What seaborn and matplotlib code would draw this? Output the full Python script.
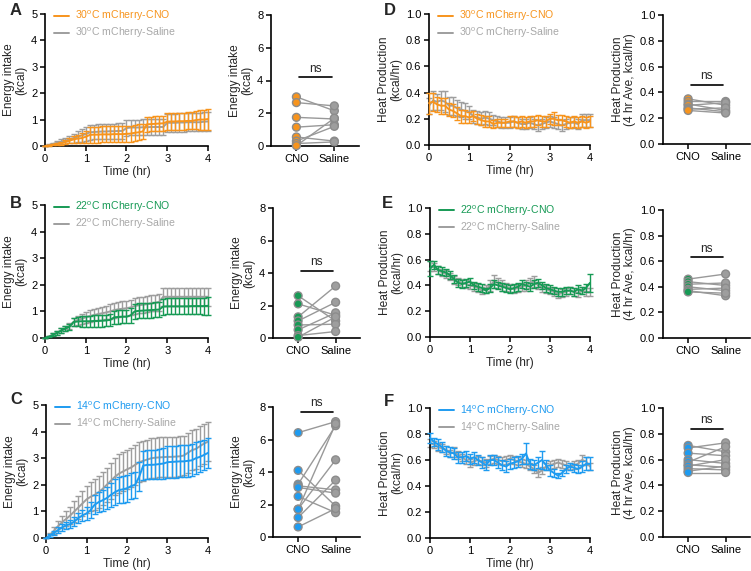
import numpy as np
import pandas as pd
import matplotlib
matplotlib.use("Agg")
import matplotlib.pyplot as plt
import seaborn as sns

sns.set_theme(style="ticks")
plt.rcParams['font.family'] = ['Liberation Sans', 'DejaVu Sans']
plt.rcParams['mathtext.fontset'] = 'custom'
plt.rcParams['mathtext.rm'] = 'Liberation Sans'

# ---------------- data ----------------
time_hr = [0.0, 0.1, 0.2, 0.3, 0.4, 0.5, 0.6, 0.7, 0.8, 0.9, 1.0,
           1.1, 1.2, 1.3, 1.4, 1.5, 1.6, 1.7, 1.8, 1.9,
           2.0, 2.1, 2.2, 2.3, 2.4, 2.5, 2.6, 2.7, 2.8, 2.9,
           3.0, 3.1, 3.2, 3.3, 3.4, 3.5, 3.6, 3.7, 3.8, 3.9, 4.0]

# Panel A: energy intake 30C
a_cno_mean = [0.00, 0.02, 0.05, 0.08, 0.10, 0.15, 0.20, 0.25, 0.28, 0.30, 0.35,
              0.42, 0.43, 0.43, 0.44, 0.44, 0.44, 0.45, 0.45, 0.45,
              0.46, 0.47, 0.50, 0.52, 0.55, 0.82, 0.83, 0.84, 0.85, 0.86,
              0.92, 0.93, 0.93, 0.94, 0.94, 0.95, 0.95, 0.98, 1.00, 1.00, 1.02]
a_cno_sem = [0.00, 0.01, 0.02, 0.04, 0.05, 0.08, 0.10, 0.13, 0.15, 0.18, 0.22,
             0.30, 0.30, 0.30, 0.30, 0.30, 0.30, 0.30, 0.30, 0.30,
             0.30, 0.30, 0.30, 0.30, 0.30, 0.28, 0.28, 0.28, 0.28, 0.28,
             0.32, 0.32, 0.32, 0.32, 0.32, 0.32, 0.32, 0.35, 0.38, 0.38, 0.40]
a_sal_mean = [0.00, 0.04, 0.08, 0.12, 0.16, 0.20, 0.25, 0.30, 0.35, 0.40, 0.45,
              0.52, 0.53, 0.54, 0.55, 0.55, 0.56, 0.56, 0.57, 0.57,
              0.68, 0.70, 0.70, 0.70, 0.71, 0.71, 0.72, 0.72, 0.72, 0.72,
              0.88, 0.88, 0.88, 0.89, 0.89, 0.90, 0.90, 0.90, 0.90, 0.92, 0.93]
a_sal_sem = [0.00, 0.03, 0.05, 0.07, 0.09, 0.12, 0.14, 0.17, 0.20, 0.24, 0.27,
             0.28, 0.28, 0.29, 0.29, 0.29, 0.29, 0.29, 0.30, 0.30,
             0.30, 0.30, 0.30, 0.30, 0.30, 0.30, 0.30, 0.30, 0.30, 0.30,
             0.35, 0.35, 0.35, 0.35, 0.35, 0.35, 0.35, 0.35, 0.35, 0.35, 0.35]

# Panel B: energy intake 22C
b_cno_mean = [0.00, 0.05, 0.12, 0.20, 0.28, 0.35, 0.42, 0.60, 0.62, 0.63, 0.63,
              0.63, 0.64, 0.64, 0.65, 0.66, 0.68, 0.78, 0.79, 0.80,
              0.80, 0.85, 1.00, 1.02, 1.03, 1.04, 1.05, 1.06, 1.07, 1.18,
              1.19, 1.19, 1.19, 1.19, 1.19, 1.19, 1.20, 1.20, 1.20, 1.20, 1.21]
b_cno_sem = [0.00, 0.03, 0.05, 0.07, 0.08, 0.10, 0.12, 0.15, 0.18, 0.20, 0.20,
             0.20, 0.22, 0.22, 0.22, 0.22, 0.24, 0.25, 0.25, 0.25,
             0.25, 0.27, 0.28, 0.28, 0.28, 0.28, 0.28, 0.28, 0.28, 0.30,
             0.30, 0.30, 0.30, 0.30, 0.30, 0.30, 0.30, 0.30, 0.30, 0.32, 0.33]
b_sal_mean = [0.00, 0.06, 0.13, 0.20, 0.28, 0.36, 0.45, 0.60, 0.67, 0.72, 0.78,
              0.82, 0.86, 0.90, 0.93, 0.96, 1.00, 1.05, 1.08, 1.10,
              1.12, 1.15, 1.20, 1.23, 1.25, 1.27, 1.30, 1.32, 1.35, 1.55,
              1.55, 1.55, 1.55, 1.55, 1.55, 1.55, 1.55, 1.55, 1.55, 1.55, 1.55]
b_sal_sem = [0.00, 0.03, 0.05, 0.07, 0.09, 0.10, 0.12, 0.15, 0.17, 0.18, 0.20,
             0.22, 0.23, 0.24, 0.25, 0.26, 0.27, 0.28, 0.28, 0.28,
             0.28, 0.28, 0.29, 0.30, 0.30, 0.30, 0.30, 0.30, 0.32, 0.33,
             0.33, 0.33, 0.33, 0.33, 0.33, 0.33, 0.33, 0.33, 0.33, 0.33, 0.33]

# Panel C: energy intake 14C
c_cno_mean = [0.00, 0.10, 0.20, 0.30, 0.40, 0.48, 0.52, 0.62, 0.75, 0.85, 0.92,
              1.05, 1.25, 1.35, 1.42, 1.50, 1.62, 1.72, 1.80, 1.83,
              1.87, 1.95, 2.00, 2.30, 2.72, 2.75, 2.75, 2.76, 2.78, 2.80,
              2.85, 2.86, 2.87, 2.88, 2.88, 2.90, 2.92, 3.00, 3.05, 3.12, 3.20]
c_cno_sem = [0.00, 0.05, 0.08, 0.10, 0.12, 0.13, 0.15, 0.17, 0.20, 0.22, 0.25,
             0.30, 0.35, 0.38, 0.40, 0.42, 0.45, 0.48, 0.50, 0.50,
             0.50, 0.50, 0.50, 0.55, 0.55, 0.55, 0.55, 0.56, 0.57, 0.58,
             0.60, 0.60, 0.60, 0.60, 0.60, 0.60, 0.60, 0.60, 0.58, 0.56, 0.55]
c_sal_mean = [0.00, 0.12, 0.28, 0.45, 0.60, 0.72, 0.85, 1.00, 1.15, 1.30, 1.45,
              1.55, 1.62, 1.72, 1.85, 2.00, 2.15, 2.30, 2.42, 2.50,
              2.58, 2.65, 2.75, 2.85, 2.90, 2.95, 3.00, 3.02, 3.03, 3.04,
              3.05, 3.05, 3.06, 3.07, 3.10, 3.20, 3.30, 3.35, 3.45, 3.55, 3.62]
c_sal_sem = [0.00, 0.08, 0.12, 0.18, 0.22, 0.28, 0.32, 0.38, 0.42, 0.48, 0.52,
             0.55, 0.58, 0.60, 0.62, 0.65, 0.68, 0.70, 0.72, 0.73,
             0.74, 0.75, 0.75, 0.75, 0.75, 0.75, 0.75, 0.75, 0.75, 0.75,
             0.75, 0.75, 0.75, 0.75, 0.75, 0.75, 0.75, 0.75, 0.75, 0.75, 0.73]

# Panel D: heat production 30C
d_cno_mean = [0.32, 0.33, 0.31, 0.30, 0.30, 0.27, 0.26, 0.24, 0.22, 0.22, 0.21,
              0.22, 0.20, 0.19, 0.18, 0.18, 0.16, 0.17, 0.17, 0.17,
              0.18, 0.18, 0.17, 0.18, 0.17, 0.18, 0.18, 0.19, 0.18, 0.18,
              0.20, 0.20, 0.19, 0.19, 0.18, 0.17, 0.18, 0.17, 0.18, 0.17, 0.18]
d_cno_sem = [0.08, 0.07, 0.06, 0.06, 0.06, 0.05, 0.05, 0.05, 0.05, 0.05, 0.04,
             0.04, 0.04, 0.04, 0.04, 0.04, 0.03, 0.03, 0.03, 0.03,
             0.04, 0.04, 0.04, 0.04, 0.04, 0.04, 0.04, 0.04, 0.04, 0.04,
             0.04, 0.05, 0.04, 0.04, 0.04, 0.04, 0.04, 0.04, 0.04, 0.04, 0.04]
d_sal_mean = [0.30, 0.34, 0.33, 0.34, 0.33, 0.30, 0.30, 0.28, 0.27, 0.26, 0.25,
              0.22, 0.21, 0.20, 0.21, 0.20, 0.19, 0.18, 0.17, 0.17,
              0.17, 0.18, 0.17, 0.16, 0.16, 0.17, 0.16, 0.15, 0.16, 0.17,
              0.18, 0.17, 0.16, 0.15, 0.16, 0.17, 0.17, 0.16, 0.19, 0.19, 0.19]
d_sal_sem = [0.06, 0.07, 0.06, 0.07, 0.08, 0.07, 0.07, 0.06, 0.06, 0.06, 0.05,
             0.05, 0.05, 0.05, 0.05, 0.05, 0.04, 0.04, 0.04, 0.04,
             0.04, 0.04, 0.04, 0.04, 0.04, 0.04, 0.04, 0.04, 0.04, 0.04,
             0.04, 0.04, 0.04, 0.04, 0.04, 0.04, 0.04, 0.04, 0.05, 0.05, 0.05]

# Panel E: heat production 22C
e_cno_mean = [0.53, 0.56, 0.52, 0.51, 0.50, 0.48, 0.45, 0.42, 0.41, 0.42, 0.43,
              0.40, 0.39, 0.38, 0.36, 0.38, 0.41, 0.40, 0.39, 0.38,
              0.37, 0.38, 0.39, 0.41, 0.40, 0.39, 0.41, 0.42, 0.40, 0.38,
              0.37, 0.36, 0.35, 0.35, 0.36, 0.36, 0.35, 0.37, 0.36, 0.38, 0.42]
e_cno_sem = [0.06, 0.03, 0.03, 0.03, 0.03, 0.03, 0.03, 0.03, 0.03, 0.03, 0.03,
             0.03, 0.03, 0.03, 0.02, 0.03, 0.03, 0.03, 0.03, 0.03,
             0.03, 0.03, 0.03, 0.03, 0.03, 0.03, 0.03, 0.03, 0.03, 0.03,
             0.03, 0.03, 0.03, 0.03, 0.03, 0.03, 0.03, 0.03, 0.03, 0.03, 0.07]
e_sal_mean = [0.55, 0.54, 0.52, 0.50, 0.49, 0.47, 0.44, 0.43, 0.42, 0.41, 0.40,
              0.39, 0.38, 0.36, 0.37, 0.40, 0.43, 0.42, 0.40, 0.39,
              0.38, 0.37, 0.38, 0.39, 0.40, 0.42, 0.43, 0.40, 0.38, 0.37,
              0.36, 0.35, 0.33, 0.34, 0.35, 0.36, 0.35, 0.34, 0.36, 0.35, 0.35]
e_sal_sem = [0.04, 0.03, 0.03, 0.03, 0.03, 0.03, 0.03, 0.03, 0.03, 0.03, 0.03,
             0.03, 0.03, 0.03, 0.03, 0.04, 0.05, 0.04, 0.04, 0.03,
             0.03, 0.03, 0.03, 0.03, 0.04, 0.04, 0.04, 0.03, 0.03, 0.03,
             0.03, 0.03, 0.03, 0.03, 0.03, 0.03, 0.03, 0.03, 0.03, 0.03, 0.03]

# Panel F: heat production 14C
f_cno_mean = [0.77, 0.74, 0.72, 0.70, 0.67, 0.66, 0.65, 0.62, 0.62, 0.63, 0.61,
              0.62, 0.60, 0.58, 0.56, 0.60, 0.60, 0.58, 0.56, 0.55,
              0.57, 0.58, 0.59, 0.61, 0.65, 0.57, 0.56, 0.58, 0.60, 0.56,
              0.52, 0.50, 0.48, 0.50, 0.53, 0.55, 0.54, 0.53, 0.55, 0.57, 0.57]
f_cno_sem = [0.04, 0.03, 0.04, 0.04, 0.04, 0.04, 0.04, 0.04, 0.04, 0.04, 0.04,
             0.04, 0.04, 0.04, 0.04, 0.04, 0.04, 0.04, 0.04, 0.04,
             0.04, 0.04, 0.04, 0.04, 0.08, 0.04, 0.04, 0.04, 0.07, 0.04,
             0.04, 0.03, 0.02, 0.02, 0.03, 0.03, 0.03, 0.03, 0.04, 0.05, 0.05]
f_sal_mean = [0.73, 0.72, 0.70, 0.69, 0.68, 0.65, 0.66, 0.64, 0.62, 0.60, 0.58,
              0.59, 0.60, 0.59, 0.58, 0.60, 0.61, 0.60, 0.59, 0.60,
              0.61, 0.60, 0.59, 0.58, 0.57, 0.55, 0.53, 0.50, 0.52, 0.55,
              0.56, 0.57, 0.58, 0.57, 0.56, 0.55, 0.56, 0.57, 0.60, 0.59, 0.55]
f_sal_sem = [0.03, 0.03, 0.03, 0.03, 0.03, 0.03, 0.04, 0.03, 0.03, 0.03, 0.03,
             0.03, 0.03, 0.03, 0.03, 0.03, 0.03, 0.03, 0.03, 0.03,
             0.03, 0.03, 0.03, 0.03, 0.03, 0.03, 0.03, 0.03, 0.03, 0.03,
             0.03, 0.03, 0.03, 0.03, 0.03, 0.03, 0.03, 0.03, 0.04, 0.03, 0.03]

# Paired individual values (CNO vs Saline)
a_dot_cno = [3.00, 2.65, 1.75, 1.15, 0.55, 0.30, 0.15, 0.02]
a_dot_sal = [2.15, 2.45, 1.65, 1.30, 0.30, 1.20, 0.25, 1.70]
b_dot_cno = [2.60, 2.10, 1.30, 1.05, 0.80, 0.50, 0.15, 0.05]
b_dot_sal = [1.05, 1.40, 3.20, 2.20, 0.85, 1.55, 0.40, 1.30]
c_dot_cno = [6.42, 4.10, 3.25, 3.15, 3.05, 2.50, 1.72, 1.20, 0.62, 1.70]
c_dot_sal = [7.10, 1.90, 6.85, 2.90, 2.70, 1.50, 4.75, 3.50, 1.75, 6.97]
d_dot_cno = [0.35, 0.33, 0.31, 0.30, 0.28, 0.27, 0.26]
d_dot_sal = [0.30, 0.33, 0.26, 0.32, 0.25, 0.28, 0.24]
e_dot_cno = [0.46, 0.44, 0.42, 0.40, 0.38, 0.37, 0.36]
e_dot_sal = [0.50, 0.41, 0.43, 0.37, 0.39, 0.33, 0.35]
f_dot_cno = [0.71, 0.69, 0.65, 0.60, 0.58, 0.56, 0.55, 0.53, 0.51, 0.50]
f_dot_sal = [0.66, 0.73, 0.63, 0.57, 0.70, 0.54, 0.60, 0.52, 0.55, 0.50]

conditions = ["Saline", "CNO"]
temps = ["30", "22", "14"]

ORANGE = "#F7941D"
GREEN = "#179A55"
BLUE = "#1E9BF0"
GRAY = "#9E9E9E"
GRAY_TXT = "#A8A8A8"
EDGE = "#8C8C8C"

# ---------------- figure ----------------
W, H = 751, 571
fig = plt.figure(figsize=(W / 100, H / 100), dpi=100)

TICK_FS = 8
LAB_FS = 8.6
LEG_FS = 7.6


def rect(left, right, top, bottom):
    return [left / W, 1 - bottom / H, (right - left) / W, (bottom - top) / H]


def style_axes(ax):
    sns.despine(ax=ax)
    for s in ("left", "bottom"):
        ax.spines[s].set_linewidth(1.2)
        ax.spines[s].set_color("black")
    ax.tick_params(axis="both", direction="out", length=3.5, width=1.1,
                   labelsize=TICK_FS, colors="black", pad=2)


def ts_panel(r, m_c, s_c, m_s, s_s, color, temp, ylim, yticks, ylabel, fmt):
    ax = fig.add_axes(r)
    n = len(time_hr)
    df = pd.DataFrame({"t": time_hr + time_hr,
                       "v": m_s + m_c,
                       "grp": ["Saline"] * n + ["CNO"] * n})
    lab_c = f"{temp}$^{{\\rm o}}$C mCherry-CNO"
    lab_s = f"{temp}$^{{\\rm o}}$C mCherry-Saline"
    # saline (gray) behind
    ax.errorbar(time_hr, m_s, yerr=s_s, fmt="none", ecolor=GRAY, elinewidth=1.0,
                capsize=2.2, capthick=1.0, zorder=1, clip_on=False)
    sns.lineplot(data=df[df.grp == "Saline"], x="t", y="v", color=GRAY, lw=1.4,
                 ax=ax, label=lab_s, zorder=2)
    ax.errorbar(time_hr, m_c, yerr=s_c, fmt="none", ecolor=color, elinewidth=1.0,
                capsize=2.2, capthick=1.0, zorder=3, clip_on=False)
    sns.lineplot(data=df[df.grp == "CNO"], x="t", y="v", color=color, lw=1.4,
                 ax=ax, label=lab_c, zorder=4)
    for ln in ax.lines:
        ln.set_clip_on(False)
    ax.set_xlim(0, 4)
    ax.set_ylim(*ylim)
    ax.set_xticks([0, 1, 2, 3, 4])
    ax.set_yticks(yticks)
    ax.set_yticklabels([fmt.format(v) for v in yticks])
    ax.set_xlabel("Time (hr)", fontsize=LAB_FS, labelpad=2)
    ax.set_ylabel(ylabel, fontsize=LAB_FS, labelpad=3, linespacing=1.0)
    style_axes(ax)
    h, l = ax.get_legend_handles_labels()
    leg = ax.legend([h[1], h[0]], [l[1], l[0]], loc="upper left",
                    bbox_to_anchor=(0.03, 1.07), frameon=False,
                    fontsize=LEG_FS, handlelength=1.4, handletextpad=0.6,
                    labelspacing=0.25, borderaxespad=0.0)
    leg.get_texts()[0].set_color(color)
    leg.get_texts()[1].set_color(GRAY_TXT)
    return ax


def dot_panel(r, cno, sal, color, ylim, yticks, ylabel, fmt, ns_y, ns_dy):
    ax = fig.add_axes(r)
    n = len(cno)
    df = pd.DataFrame({"x": [0] * n + [1] * n,
                       "v": cno + sal,
                       "mouse": list(range(n)) * 2,
                       "grp": ["CNO"] * n + ["Saline"] * n})
    sns.lineplot(data=df, x="x", y="v", units="mouse", estimator=None,
                 color="#999999", lw=1.0, ax=ax, legend=False, zorder=1)
    sns.scatterplot(data=df, x="x", y="v", hue="grp",
                    palette={"CNO": color, "Saline": GRAY},
                    edgecolor=EDGE, linewidth=1.0, s=32, ax=ax,
                    legend=False, zorder=3, clip_on=False)
    ax.set_xlim(-0.67, 1.65)
    ax.set_ylim(*ylim)
    ax.set_xticks([0, 1])
    ax.set_xticklabels(["CNO", "Saline"])
    ax.set_yticks(yticks)
    ax.set_yticklabels([fmt.format(v) for v in yticks])
    ax.set_xlabel("")
    ax.set_ylabel(ylabel, fontsize=LAB_FS, labelpad=3, linespacing=1.0)
    style_axes(ax)
    ax.plot([0.07, 0.93], [ns_y, ns_y], color="black", lw=1.2, clip_on=False)
    ax.text(0.5, ns_y + ns_dy, "ns", ha="center", va="bottom",
            fontsize=LAB_FS, clip_on=False)
    return ax


ei_ticks = [0, 1, 2, 3, 4, 5]
hp_ticks = [0.0, 0.2, 0.4, 0.6, 0.8, 1.0]
dot_ticks = [0, 2, 4, 6, 8]
EI = "Energy intake\n(kcal)"
HP = "Heat Production\n(kcal/hr)"
HP2 = "Heat Production\n(4 hr Ave, kcal/hr)"

rows = [
    dict(ts=(45, 208, 14, 146), dot=(271, 359, 15, 146), ts2=(429, 590, 14, 145), dot2=(663, 750, 15, 144)),
    dict(ts=(45, 208, 205, 338), dot=(273, 360, 208, 338), ts2=(430, 590, 208, 337), dot2=(663, 750, 210, 338)),
    dict(ts=(46, 208, 405, 538), dot=(273, 360, 407, 537), ts2=(430, 590, 408, 538), dot2=(663, 750, 408, 537)),
]

ts_panel(rect(*rows[0]["ts"]), a_cno_mean, a_cno_sem, a_sal_mean, a_sal_sem, ORANGE, temps[0],
         (0, 5), ei_ticks, EI, "{:d}")
dot_panel(rect(*rows[0]["dot"]), a_dot_cno, a_dot_sal, ORANGE, (0, 8), dot_ticks, EI, "{:d}", 4.2, 0.15)
ts_panel(rect(*rows[0]["ts2"]), d_cno_mean, d_cno_sem, d_sal_mean, d_sal_sem, ORANGE, temps[0],
         (0, 1), hp_ticks, HP, "{:.1f}")
dot_panel(rect(*rows[0]["dot2"]), d_dot_cno, d_dot_sal, ORANGE, (0, 1), hp_ticks, HP2, "{:.1f}", 0.46, 0.02)

ts_panel(rect(*rows[1]["ts"]), b_cno_mean, b_cno_sem, b_sal_mean, b_sal_sem, GREEN, temps[1],
         (0, 5), ei_ticks, EI, "{:d}")
dot_panel(rect(*rows[1]["dot"]), b_dot_cno, b_dot_sal, GREEN, (0, 8), dot_ticks, EI, "{:d}", 4.15, 0.15)
ts_panel(rect(*rows[1]["ts2"]), e_cno_mean, e_cno_sem, e_sal_mean, e_sal_sem, GREEN, temps[1],
         (0, 1), hp_ticks, HP, "{:.1f}")
dot_panel(rect(*rows[1]["dot2"]), e_dot_cno, e_dot_sal, GREEN, (0, 1), hp_ticks, HP2, "{:.1f}", 0.63, 0.02)

ts_panel(rect(*rows[2]["ts"]), c_cno_mean, c_cno_sem, c_sal_mean, c_sal_sem, BLUE, temps[2],
         (0, 5), ei_ticks, EI, "{:d}")
dot_panel(rect(*rows[2]["dot"]), c_dot_cno, c_dot_sal, BLUE, (0, 8), dot_ticks, EI, "{:d}", 7.7, 0.15)
ts_panel(rect(*rows[2]["ts2"]), f_cno_mean, f_cno_sem, f_sal_mean, f_sal_sem, BLUE, temps[2],
         (0, 1), hp_ticks, HP, "{:.1f}")
dot_panel(rect(*rows[2]["dot2"]), f_dot_cno, f_dot_sal, BLUE, (0, 1), hp_ticks, HP2, "{:.1f}", 0.84, 0.02)

letters = [("A", 10, 3), ("D", 384, 3), ("B", 10, 196), ("E", 382, 196), ("C", 10, 392), ("F", 384, 394)]
for let, x, y in letters:
    fig.text(x / W, 1 - y / H, let, fontsize=12, fontweight="bold", ha="left", va="top")

fig.savefig("out.png", dpi=100)
